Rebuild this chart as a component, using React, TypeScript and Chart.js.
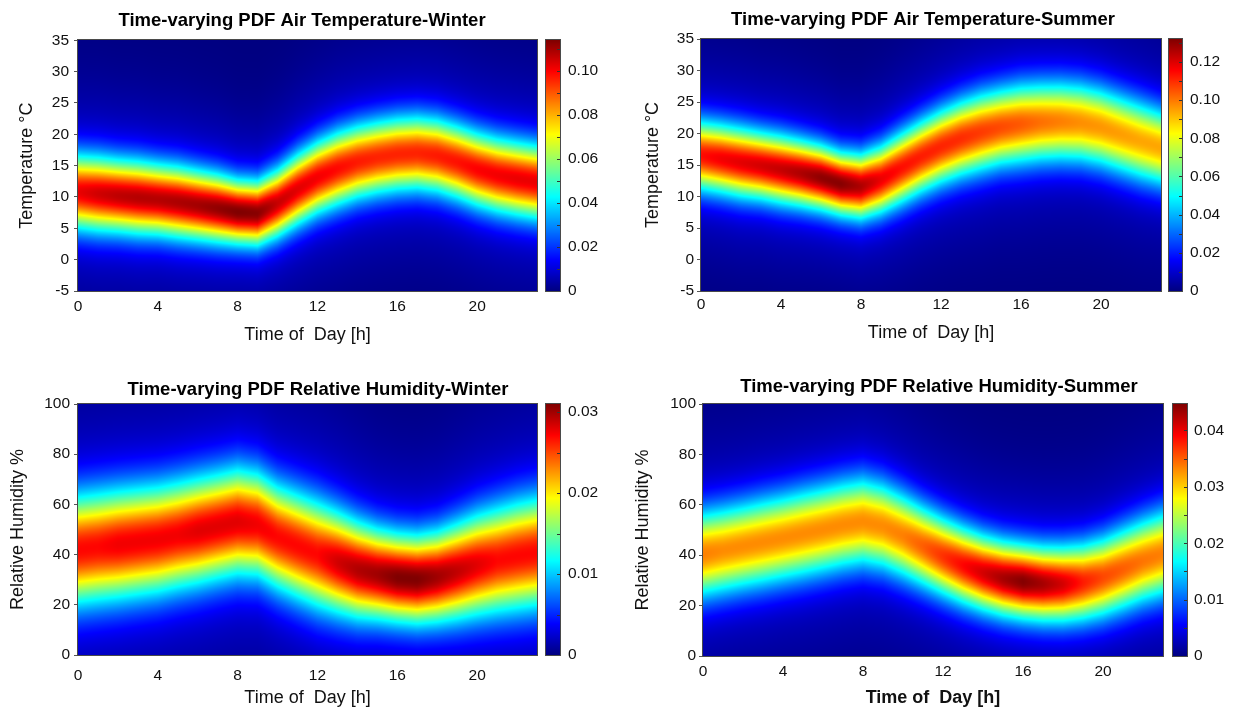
import React, { useEffect, useRef } from 'react';
import { Chart, registerables } from 'chart.js';

Chart.register(...registerables);

const FONT = "'Liberation Sans', Arial, Helvetica, sans-serif";
const TITLE_FONT = "'Liberation Sans', Arial, Helvetica, sans-serif";
Chart.defaults.font.family = FONT;

// ---------------- data ----------------
const hours = [0, 1, 2, 3, 4, 5, 6, 7, 8, 9, 10, 11, 12, 13, 14, 15, 16, 17, 18, 19, 20, 21, 22, 23];
const xTickValues = [0, 4, 8, 12, 16, 20];
const tempTickValues = [-5, 0, 5, 10, 15, 20, 25, 30, 35];
const rhTickValues = [0, 20, 40, 60, 80, 100];

// Air temperature, winter: mode (°C), spread (°C), peak density per hour
const tempWinterMode = [10.8, 10.5, 10.2, 9.9, 9.6, 9.2, 8.7, 8.2, 7.6, 7.4, 9.0, 11.2, 13.1, 14.5, 15.6, 16.3, 16.8, 17.0, 16.6, 15.6, 14.4, 13.5, 12.9, 12.4];
const tempWinterSpread = [4.0, 4.0, 3.9, 3.9, 3.8, 3.8, 3.7, 3.6, 3.4, 3.4, 3.6, 3.8, 3.9, 4.0, 4.0, 4.0, 4.0, 4.0, 4.0, 4.0, 4.0, 4.0, 4.0, 4.0];
const tempWinterPeak = [0.102, 0.105, 0.107, 0.108, 0.108, 0.109, 0.110, 0.112, 0.114, 0.113, 0.106, 0.103, 0.101, 0.099, 0.097, 0.096, 0.096, 0.096, 0.097, 0.098, 0.100, 0.101, 0.102, 0.102];

// Air temperature, summer
const tempSummerMode = [16.5, 16.0, 15.4, 14.9, 14.3, 13.7, 13.0, 12.0, 11.6, 12.7, 14.5, 16.3, 17.9, 19.2, 20.2, 21.0, 21.5, 21.8, 21.9, 21.7, 21.0, 19.9, 18.8, 17.8];
const tempSummerSpread = [3.7, 3.7, 3.7, 3.6, 3.6, 3.5, 3.4, 3.3, 3.4, 3.6, 3.8, 3.9, 4.0, 4.1, 4.2, 4.2, 4.3, 4.3, 4.3, 4.3, 4.3, 4.3, 4.3, 4.2];
const tempSummerPeak = [0.114, 0.117, 0.119, 0.121, 0.123, 0.126, 0.130, 0.131, 0.126, 0.118, 0.114, 0.112, 0.111, 0.110, 0.108, 0.106, 0.104, 0.101, 0.099, 0.097, 0.096, 0.095, 0.094, 0.094];

// Relative humidity, winter
const rhWinterMode = [42, 43, 44, 45, 46, 47.7, 49.4, 51.2, 53, 52, 47, 43.5, 40.1, 37, 34, 32.2, 30.8, 30.1, 31.1, 33.3, 35.8, 37.7, 39.4, 40.8];
const rhWinterSpread = [14.8, 14.8, 14.7, 14.6, 14.5, 14.4, 14.3, 14.2, 14.2, 14.0, 14.0, 14.2, 14.3, 13.6, 12.8, 12.0, 11.6, 11.6, 12.0, 12.8, 13.6, 14.2, 14.6, 14.8];
const rhWinterPeak = [0.027, 0.027, 0.0275, 0.0275, 0.0275, 0.0275, 0.028, 0.028, 0.028, 0.0275, 0.027, 0.027, 0.027, 0.0285, 0.0295, 0.030, 0.031, 0.031, 0.030, 0.029, 0.028, 0.027, 0.027, 0.027];

// Relative humidity, summer
const rhSummerMode = [40.5, 42, 43.6, 45.2, 46.8, 48.5, 50.2, 52, 53.3, 51.5, 47.8, 43.6, 39.6, 36, 33, 30.8, 29.5, 28.6, 28.5, 29.3, 31.3, 34.5, 37.8, 40.5];
const rhSummerSpread = [11.8, 11.8, 11.8, 11.9, 11.9, 12.0, 12.0, 12.0, 12.0, 11.8, 11.5, 11.0, 10.6, 10.3, 10.0, 9.8, 9.7, 9.8, 10.0, 10.3, 10.7, 11.1, 11.4, 11.7];
const rhSummerPeak = [0.0335, 0.033, 0.033, 0.033, 0.033, 0.033, 0.033, 0.033, 0.033, 0.033, 0.0335, 0.035, 0.037, 0.039, 0.041, 0.043, 0.0445, 0.043, 0.041, 0.038, 0.036, 0.035, 0.034, 0.0335];

// colour-bar ranges and ticks
const cbTempWinterMax = 0.114;
const cbTempWinterTicks = [0, 0.02, 0.04, 0.06, 0.08, 0.1];
const cbTempSummerMax = 0.132;
const cbTempSummerTicks = [0, 0.02, 0.04, 0.06, 0.08, 0.1, 0.12];
const cbRhWinterMax = 0.031;
const cbRhWinterTicks = [0, 0.01, 0.02, 0.03];
const cbRhSummerMax = 0.0447;
const cbRhSummerTicks = [0, 0.01, 0.02, 0.03, 0.04];

// shape of each hourly PDF (core + broad tail), normalised to 1 at the mode
const CORE_W = 0.88;
const TAIL_K = 2.6;

function density(mode: number, spread: number, peak: number, v: number) {
  const z = (v - mode) / spread;
  return peak * (CORE_W * Math.exp(-z * z / 2) + (1 - CORE_W) * Math.exp(-z * z / (2 * TAIL_K * TAIL_K)));
}

function jet(t: number): [number, number, number] {
  const tt = Math.max(0, Math.min(1, t));
  const c = (x: number) => Math.max(0, Math.min(1, x));
  const r = c(Math.min(4 * tt - 1.5, -4 * tt + 4.5));
  const g = c(Math.min(4 * tt - 0.5, -4 * tt + 3.5));
  const b = c(Math.min(4 * tt + 0.5, -4 * tt + 2.5));
  return [Math.round(r * 255), Math.round(g * 255), Math.round(b * 255)];
}

// value of an hourly parameter at a fractional hour (shading between hourly nodes)
function atHour(arr: number[], h: number) {
  const hh = Math.max(hours[0], Math.min(hours[hours.length - 1], h));
  const i = Math.min(hours.length - 2, Math.floor(hh - hours[0]));
  const f = hh - hours[i];
  return arr[i] * (1 - f) + arr[i + 1] * f;
}

type PanelCfg = {
  id: string;
  title: string;
  xTitle: string;
  xTitleBold: boolean;
  yTitle: string;
  yMin: number;
  yMax: number;
  yTicks: number[];
  mode: number[];
  spread: number[];
  peak: number[];
  cbMax: number;
  cbTicks: number[];
  box: { left: number; top: number; w: number; h: number };
  area: { l: number; r: number; t: number; b: number };
  titleCX: number;
  titleCY: number;
  yTitleCX: number;
  yTickPad: number;
  xTickOffset: number;
  xTitleCY: number;
  cbGap: number;
  cbWidth: number;
  cbLabelPad: number;
};

const panels: PanelCfg[] = [
  {
    id: 'tw', title: 'Time-varying PDF Air Temperature-Winter', xTitle: 'Time of  Day [h]', xTitleBold: false,
    yTitle: 'Temperature °C', yMin: -5, yMax: 35, yTicks: tempTickValues,
    mode: tempWinterMode, spread: tempWinterSpread, peak: tempWinterPeak,
    cbMax: cbTempWinterMax, cbTicks: cbTempWinterTicks,
    box: { left: 0, top: 0, w: 616, h: 355 }, area: { l: 78, r: 537, t: 40, b: 291 },
    titleCX: 302, titleCY: 21, yTitleCX: 27, yTickPad: 5, xTickOffset: 16, xTitleCY: 335,
    cbGap: 9, cbWidth: 14, cbLabelPad: 31,
  },
  {
    id: 'ts', title: 'Time-varying PDF Air Temperature-Summer', xTitle: 'Time of  Day [h]', xTitleBold: false,
    yTitle: 'Temperature °C', yMin: -5, yMax: 35, yTicks: tempTickValues,
    mode: tempSummerMode, spread: tempSummerSpread, peak: tempSummerPeak,
    cbMax: cbTempSummerMax, cbTicks: cbTempSummerTicks,
    box: { left: 616, top: 0, w: 617, h: 355 }, area: { l: 85, r: 545, t: 39, b: 291 },
    titleCX: 307, titleCY: 20, yTitleCX: 37, yTickPad: 3, xTickOffset: 14, xTitleCY: 333,
    cbGap: 8, cbWidth: 13, cbLabelPad: 29,
  },
  {
    id: 'hw', title: 'Time-varying PDF Relative Humidity-Winter', xTitle: 'Time of  Day [h]', xTitleBold: false,
    yTitle: 'Relative Humidity %', yMin: 0, yMax: 100, yTicks: rhTickValues,
    mode: rhWinterMode, spread: rhWinterSpread, peak: rhWinterPeak,
    cbMax: cbRhWinterMax, cbTicks: cbRhWinterTicks,
    box: { left: 0, top: 355, w: 616, h: 355 }, area: { l: 78, r: 537, t: 49, b: 300 },
    titleCX: 318, titleCY: 35, yTitleCX: 18, yTickPad: 4, xTickOffset: 21, xTitleCY: 343,
    cbGap: 9, cbWidth: 14, cbLabelPad: 31,
  },
  {
    id: 'hs', title: 'Time-varying PDF Relative Humidity-Summer', xTitle: 'Time of  Day [h]', xTitleBold: true,
    yTitle: 'Relative Humidity %', yMin: 0, yMax: 100, yTicks: rhTickValues,
    mode: rhSummerMode, spread: rhSummerSpread, peak: rhSummerPeak,
    cbMax: cbRhSummerMax, cbTicks: cbRhSummerTicks,
    box: { left: 616, top: 355, w: 617, h: 355 }, area: { l: 87, r: 547, t: 49, b: 301 },
    titleCX: 323, titleCY: 32, yTitleCX: 27, yTickPad: 3, xTickOffset: 16, xTitleCY: 343,
    cbGap: 10, cbWidth: 14, cbLabelPad: 31,
  },
];

const TITLE_SIZE = 18.5;
const AXIS_TITLE_SIZE = 18;
const TICK_SIZE = 15.5;
const BORDER = '#4a4a4a';

function makeHeatmapPlugin(p: PanelCfg) {
  return {
    id: 'heatmap_' + p.id,
    beforeDatasetsDraw(chart: any) {
      const { ctx, chartArea } = chart;
      const xs = chart.scales.x;
      const ys = chart.scales.y;
      const cb = chart.scales.cb;
      const left = Math.round(chartArea.left);
      const right = Math.round(chartArea.right);
      const top = Math.round(chartArea.top);
      const bottom = Math.round(chartArea.bottom);
      const cols = right - left;
      const rows = bottom - top;

      const img = ctx.createImageData(cols, rows);
      const vals: number[] = [];
      for (let r = 0; r < rows; r++) vals.push(ys.getValueForPixel(top + r + 0.5));
      for (let c = 0; c < cols; c++) {
        const h = xs.getValueForPixel(left + c + 0.5);
        const m = atHour(p.mode, h);
        const s = atHour(p.spread, h);
        const pk = atHour(p.peak, h);
        for (let r = 0; r < rows; r++) {
          const d = density(m, s, pk, vals[r]);
          const [R, G, B] = jet(d / p.cbMax);
          const k = (r * cols + c) * 4;
          img.data[k] = R;
          img.data[k + 1] = G;
          img.data[k + 2] = B;
          img.data[k + 3] = 255;
        }
      }
      ctx.putImageData(img, left, top);

      // plot box
      ctx.save();
      ctx.strokeStyle = BORDER;
      ctx.lineWidth = 1;
      ctx.strokeRect(left - 0.5, top - 0.5, cols + 1, rows + 1);
      ctx.restore();

      // colour bar
      const cbL = right + p.cbGap;
      const cbTop = Math.round(cb.getPixelForValue(p.cbMax));
      const cbBot = Math.round(cb.getPixelForValue(0));
      ctx.save();
      for (let y = cbTop; y < cbBot; y++) {
        const v = cb.getValueForPixel(y + 0.5);
        const [R, G, B] = jet(v / p.cbMax);
        ctx.fillStyle = `rgb(${R},${G},${B})`;
        ctx.fillRect(cbL, y, p.cbWidth, 1);
      }
      ctx.strokeStyle = BORDER;
      ctx.lineWidth = 1;
      ctx.strokeRect(cbL - 0.5, cbTop - 0.5, p.cbWidth + 1, cbBot - cbTop + 1);
      const marks: number[] = [];
      for (let i = 0; i < p.cbTicks.length; i++) {
        marks.push(p.cbTicks[i]);
        if (i + 1 < p.cbTicks.length) marks.push((p.cbTicks[i] + p.cbTicks[i + 1]) / 2);
      }
      const step = p.cbTicks[1] - p.cbTicks[0];
      const last = p.cbTicks[p.cbTicks.length - 1];
      if (last + step / 2 < p.cbMax) marks.push(last + step / 2);
      ctx.strokeStyle = '#333';
      for (const m of marks) {
        if (m <= 0) continue;
        const y = Math.round(cb.getPixelForValue(m)) + 0.5;
        ctx.beginPath();
        ctx.moveTo(cbL + p.cbWidth - 3, y);
        ctx.lineTo(cbL + p.cbWidth, y);
        ctx.stroke();
      }
      ctx.restore();
    },
  };
}

function buildConfig(p: PanelCfg): any {
  const W = p.box.w;
  const H = p.box.h;
  const diff = 2 * p.titleCX - W;
  const padL = diff > 0 ? diff : 0;
  const padR = diff < 0 ? -diff : 0;
  const titleLH = TITLE_SIZE * 1.2;
  const titlePadTop = p.titleCY - titleLH / 2;
  const titlePadBottom = p.area.t - titlePadTop - titleLH;
  const axLH = AXIS_TITLE_SIZE * 1.2;
  const tickLH = TICK_SIZE * 1.2;
  const cbFmt = (v: number) => (v === 0 ? '0' : Number(v).toFixed(2));

  return {
    type: 'scatter',
    data: { datasets: [{ data: [], pointRadius: 0 }] },
    options: {
      animation: false,
      responsive: false,
      maintainAspectRatio: false,
      events: [],
      layout: { padding: { left: padL, right: padR, top: 0, bottom: 0 } },
      plugins: {
        legend: { display: false },
        tooltip: { enabled: false },
        title: {
          display: true,
          text: p.title,
          color: '#000',
          font: { family: TITLE_FONT, size: TITLE_SIZE, weight: 'bold', lineHeight: 1.2 },
          padding: { top: titlePadTop, bottom: titlePadBottom },
        },
      },
      scales: {
        x: {
          type: 'linear',
          position: 'bottom',
          min: 0,
          max: 23,
          afterBuildTicks: (s: any) => { s.ticks = xTickValues.map((v) => ({ value: v })); },
          afterFit: (s: any) => { s.height = H - p.area.b; },
          grid: { display: false, drawTicks: false },
          border: { display: false },
          ticks: {
            color: '#111',
            padding: p.xTickOffset - tickLH / 2,
            maxRotation: 0,
            autoSkip: false,
            font: { family: FONT, size: TICK_SIZE },
            callback: (v: any) => String(v),
          },
          title: {
            display: true,
            text: p.xTitle,
            color: '#111',
            font: { family: FONT, size: AXIS_TITLE_SIZE, weight: p.xTitleBold ? 'bold' : 'normal' },
            padding: { top: 0, bottom: H - p.xTitleCY - axLH / 2 },
          },
        },
        y: {
          type: 'linear',
          position: 'left',
          min: p.yMin,
          max: p.yMax,
          afterBuildTicks: (s: any) => { s.ticks = p.yTicks.map((v) => ({ value: v })); },
          afterFit: (s: any) => { s.width = p.area.l - padL; },
          grid: { display: true, drawOnChartArea: false, drawTicks: true, tickLength: 4, color: '#555', lineWidth: 1 },
          border: { display: false },
          ticks: {
            color: '#111',
            padding: p.yTickPad,
            autoSkip: false,
            font: { family: FONT, size: TICK_SIZE },
            callback: (v: any) => String(v),
          },
          title: {
            display: true,
            text: p.yTitle,
            color: '#111',
            font: { family: FONT, size: AXIS_TITLE_SIZE },
            padding: { top: p.yTitleCX - padL - axLH / 2, bottom: 0 },
          },
        },
        cb: {
          type: 'linear',
          position: 'right',
          min: 0,
          max: p.cbMax,
          afterBuildTicks: (s: any) => { s.ticks = p.cbTicks.map((v) => ({ value: v })); },
          afterFit: (s: any) => { s.width = W - padR - p.area.r; },
          grid: { display: false, drawTicks: false },
          border: { display: false },
          ticks: {
            color: '#111',
            padding: p.cbLabelPad,
            autoSkip: false,
            font: { family: FONT, size: TICK_SIZE },
            callback: (v: any) => cbFmt(v),
          },
        },
      },
    },
    plugins: [makeHeatmapPlugin(p)],
  };
}

function HeatPanel({ cfg }: { cfg: PanelCfg }) {
  const ref = useRef<HTMLCanvasElement | null>(null);
  useEffect(() => {
    if (!ref.current) return;
    const chart = new Chart(ref.current, buildConfig(cfg));
    return () => chart.destroy();
  }, [cfg]);
  return (
    <canvas
      ref={ref}
      width={cfg.box.w}
      height={cfg.box.h}
      style={{ position: 'absolute', left: cfg.box.left, top: cfg.box.top, width: cfg.box.w, height: cfg.box.h }}
    />
  );
}

export default function App() {
  return (
    <div style={{ position: 'absolute', left: 0, top: 0, width: 1233, height: 710, background: '#fff', overflow: 'hidden' }}>
      {panels.map((p) => (
        <HeatPanel key={p.id} cfg={p} />
      ))}
    </div>
  );
}
